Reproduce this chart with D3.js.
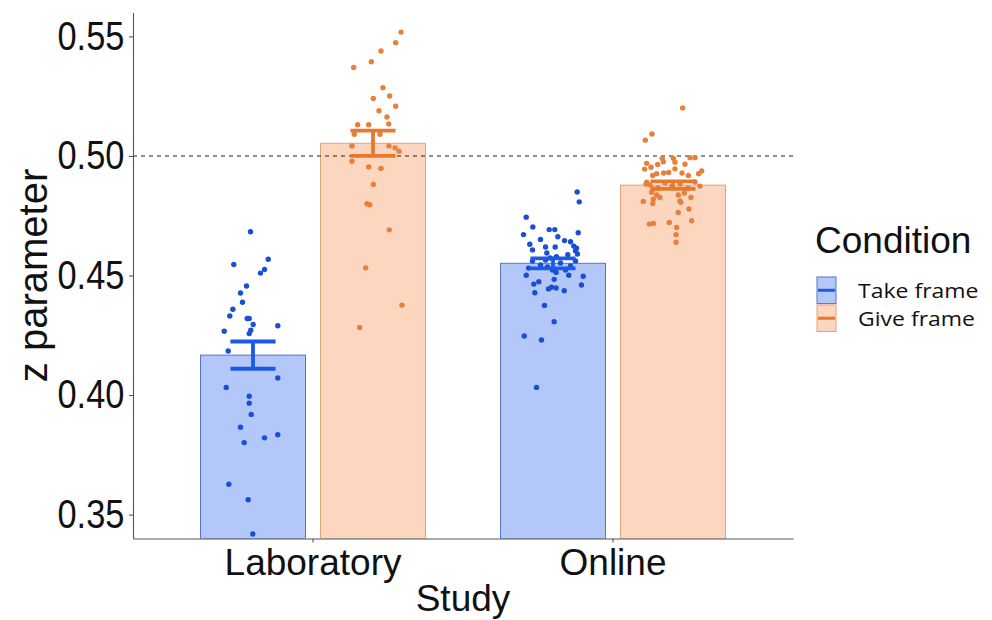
<!DOCTYPE html>
<html><head><meta charset="utf-8">
<script src="https://cdn.jsdelivr.net/npm/d3@7"></script>
<style>body{margin:0;background:#fff}</style>
</head><body>
<svg id="chart" width="992" height="620"></svg>
<script>
// ---------- data ----------
const studies = ["Laboratory", "Online"];
const conditions = ["Take frame", "Give frame"];
const yTickValues = [0.35, 0.40, 0.45, 0.50, 0.55];
const referenceLine = 0.5;

// bar heights (means) and standard errors, [Take, Give] per study
const labMeans = [0.4167, 0.5053];
const labSE = [0.0057, 0.0053];
const onlineMeans = [0.4551, 0.4878];
const onlineSE = [0.0021, 0.0016];

// individual participants (z values) and their horizontal jitter (fraction of bar width)
const labTakeZ = [0.4683,0.4568,0.4546,0.4525,0.4510,0.4456,0.4427,0.4388,0.4359,0.4331,0.4320,0.4320,0.4295,0.4290,0.4271,0.4257,0.4267,0.4184,0.4071,0.4032,0.3995,0.3966,0.3919,0.3865,0.3821,0.3834,0.3801,0.3627,0.3562,0.3419];
const labTakeJitter = [-0.024,0.145,-0.183,0.110,0.071,-0.062,-0.119,-0.100,-0.192,-0.221,-0.055,-0.036,0.002,0.236,-0.021,-0.036,-0.274,-0.236,0.236,-0.255,-0.036,-0.036,-0.017,-0.119,0.110,0.236,-0.084,-0.230,-0.046,-0.002];

const labGiveZ = [0.5518,0.5474,0.5439,0.5394,0.5370,0.5285,0.5240,0.5251,0.5208,0.5189,0.5163,0.5131,0.5131,0.5134,0.5091,0.5091,0.5042,0.5042,0.5034,0.5020,0.4978,0.4954,0.4948,0.4881,0.4800,0.4796,0.4691,0.4532,0.4376,0.4283];
const labGiveJitter = [0.267,0.216,0.076,-0.016,-0.184,0.095,0.003,0.159,0.216,0.057,0.133,-0.146,-0.041,0.150,-0.178,0.067,-0.200,0.152,0.210,0.248,-0.200,-0.041,0.076,0.003,-0.057,-0.031,0.155,-0.070,0.276,-0.127];

const onlineTakeZ = [0.4849,0.4808,0.4744,0.4703,0.4692,0.4692,0.4671,0.4679,0.4662,0.4651,0.4646,0.4641,0.4631,0.4619,0.4619,0.4623,0.4607,0.4614,0.4604,0.4594,0.4590,0.4587,0.4579,0.4573,
  0.4561,0.4544,0.4552,0.4540,0.4565,0.4561,0.4531,0.4523,0.4523,0.4536,
  0.4513,0.4501,0.4501,0.4497,0.4484,0.4474,0.4464,0.4460,0.4451,0.4448,0.4444,0.4436,0.4428,0.4375,0.4307,0.4247,0.4230,0.4032];
const onlineTakeJitter = [0.230,0.250,-0.255,-0.192,-0.036,0.017,-0.281,0.240,0.046,-0.119,0.110,0.167,-0.221,-0.071,0.021,0.198,-0.195,0.224,0.214,-0.059,0.233,0.141,0.033,-0.027,
  -0.195,-0.119,0.071,0.167,-0.071,0.214,-0.233,-0.005,0.119,-0.052,
  0.030,-0.255,0.150,0.288,0.011,-0.135,-0.183,0.271,-0.014,0.030,-0.043,0.107,-0.173,-0.081,0.011,-0.274,-0.110,-0.157];

const onlineGiveZ = [0.5201,0.5092,0.5066,0.4990,0.4976,0.4990,0.4974,0.4993,0.4993,0.4969,0.4964,0.4953,0.4965,0.4945,0.4946,0.4929,0.4931,0.4926,0.4918,0.4929,0.4937,0.4926,0.4918,0.4890,
  0.4879,0.4887,0.4883,0.4891,0.4866,0.4866,0.4874,0.4874,
  0.4883,0.4862,0.4848,0.4837,0.4826,0.4819,0.4810,0.4801,0.4837,0.4845,0.4826,0.4812,0.4806,0.4778,0.4764,0.4729,0.4715,0.4718,0.4722,0.4701,0.4671,0.4639];
const onlineGiveJitter = [0.092,-0.200,-0.264,-0.102,-0.092,0.003,0.019,0.162,0.210,-0.250,-0.146,-0.210,0.114,-0.270,0.019,-0.089,-0.041,-0.155,-0.193,0.086,0.273,0.244,0.146,-0.250,
  -0.219,-0.076,0.067,0.210,-0.143,0.143,-0.010,0.257,
  -0.257,-0.187,-0.203,-0.155,-0.124,-0.187,-0.283,-0.193,0.050,0.108,0.171,0.067,0.073,0.152,0.050,0.178,-0.226,-0.187,-0.035,0.035,0.029,0.029];

// ---------- build tables ----------
const bars = [];
[[labMeans, labSE], [onlineMeans, onlineSE]].forEach(([m, s], i) => {
  conditions.forEach((c, j) => bars.push({study: studies[i], cond: c, mean: m[j], se: s[j]}));
});
const points = [];
function addPts(study, cond, zs, js) { zs.forEach((z, k) => points.push({study, cond, z, j: js[k]})); }
addPts("Laboratory", "Take frame", labTakeZ, labTakeJitter);
addPts("Laboratory", "Give frame", labGiveZ, labGiveJitter);
addPts("Online", "Take frame", onlineTakeZ, onlineTakeJitter);
addPts("Online", "Give frame", onlineGiveZ, onlineGiveJitter);

// ---------- styles ----------
const fillCol = {"Take frame": "#b3c8f9", "Give frame": "#fcd6bf"};
const edgeCol = {"Take frame": "#5276c6", "Give frame": "#e3a27a"};
const dotCol = {"Take frame": "#1b4fd3", "Give frame": "#e8803d"};
const errCol = {"Take frame": "#1a5ae6", "Give frame": "#e8782e"};
const FONT = "'Liberation Sans', Arial, sans-serif";

// ---------- scales ----------
const svg = d3.select("#chart");
const pLeft = 133, pRight = 793, pTop = 12.5, pBottom = 538.5;
const x0 = d3.scaleBand().domain(studies).range([pLeft, pRight]).paddingInner(0).paddingOuter(0.1);
const x1 = d3.scaleBand().domain(conditions).range([0, x0.bandwidth()]).paddingInner(0.125).paddingOuter(0.3125);
const y = d3.scaleLinear().domain([0.34, 0.56]).range([pBottom, pTop]);

const panel = svg.append("g");
panel.append("clipPath").attr("id", "clip").append("rect")
  .attr("x", pLeft).attr("y", pTop).attr("width", pRight - pLeft).attr("height", pBottom - pTop);
const plot = panel.append("g").attr("clip-path", "url(#clip)");

// bars
plot.selectAll("rect.bar").data(bars).join("rect").attr("class", "bar")
  .attr("x", d => x0(d.study) + x1(d.cond))
  .attr("width", x1.bandwidth())
  .attr("y", d => y(d.mean))
  .attr("height", d => y(0.34) - y(d.mean))
  .attr("fill", d => fillCol[d.cond])
  .attr("stroke", d => edgeCol[d.cond]).attr("stroke-width", 1);

// reference line
plot.append("line").attr("x1", pLeft).attr("x2", pRight)
  .attr("y1", y(referenceLine)).attr("y2", y(referenceLine))
  .attr("stroke", "#222").attr("stroke-width", 1.1).attr("stroke-dasharray", "4,4");

// jittered points
plot.selectAll("circle.pt").data(points).join("circle").attr("class", "pt")
  .attr("cx", d => x0(d.study) + x1(d.cond) + x1.bandwidth() / 2 + d.j * x1.bandwidth())
  .attr("cy", d => y(d.z))
  .attr("r", 2.7)
  .attr("fill", d => dotCol[d.cond]);

// error bars
const capHalf = 0.215;
const eb = plot.selectAll("g.eb").data(bars).join("g").attr("class", "eb")
  .attr("stroke", d => errCol[d.cond]).attr("stroke-width", 3.8);
eb.append("line")
  .attr("x1", d => x0(d.study) + x1(d.cond) + x1.bandwidth() / 2)
  .attr("x2", d => x0(d.study) + x1(d.cond) + x1.bandwidth() / 2)
  .attr("y1", d => y(d.mean - d.se)).attr("y2", d => y(d.mean + d.se));
[-1, 1].forEach(sgn => {
  eb.append("line")
    .attr("x1", d => x0(d.study) + x1(d.cond) + x1.bandwidth() * (0.5 - capHalf))
    .attr("x2", d => x0(d.study) + x1(d.cond) + x1.bandwidth() * (0.5 + capHalf))
    .attr("y1", d => y(d.mean + sgn * d.se)).attr("y2", d => y(d.mean + sgn * d.se));
});

// axes
const yAxis = svg.append("g").attr("transform", `translate(${pLeft},0)`)
  .call(d3.axisLeft(y).tickValues(yTickValues).tickFormat(d3.format(".2f")).tickSize(4).tickSizeOuter(0).tickPadding(6));
yAxis.selectAll("text").attr("font-family", FONT).attr("font-size", 40).attr("fill", "#111")
  .attr("transform", "scale(0.86,1)");
const xAxis = svg.append("g").attr("transform", `translate(0,${pBottom})`)
  .call(d3.axisBottom(x0).tickSize(4).tickSizeOuter(0).tickPadding(6));
xAxis.selectAll("text").attr("font-family", FONT).attr("font-size", 37).attr("fill", "#111");
svg.selectAll(".domain, .tick line").attr("stroke", "#555").attr("stroke-width", 1.1);

// axis titles
svg.append("text").attr("x", (pLeft + pRight) / 2).attr("y", 611)
  .attr("text-anchor", "middle").attr("font-family", FONT).attr("font-size", 37).attr("fill", "#111").text("Study");
svg.append("text").attr("transform", `translate(47,${(pTop + pBottom) / 2}) rotate(-90)`)
  .attr("text-anchor", "middle").attr("font-family", FONT).attr("font-size", 40).attr("fill", "#111").text("z parameter");

// legend
const lg = svg.append("g").attr("transform", "translate(815,0)");
lg.append("text").attr("x", 0).attr("y", 253).attr("font-family", FONT).attr("font-size", 37).attr("fill", "#111").text("Condition");
const keyY = d3.scaleBand().domain(conditions).range([277, 331.5]).paddingInner(0.05);
const item = lg.selectAll("g.item").data(conditions).join("g").attr("class", "item")
  .attr("transform", d => `translate(2,${keyY(d)})`);
item.append("rect").attr("width", 19).attr("height", keyY.bandwidth())
  .attr("fill", d => fillCol[d]).attr("stroke", d => edgeCol[d]).attr("stroke-width", 1);
item.append("line").attr("x1", 1).attr("x2", 18)
  .attr("y1", keyY.bandwidth() / 2).attr("y2", keyY.bandwidth() / 2)
  .attr("stroke", d => errCol[d]).attr("stroke-width", 3);
item.append("text").attr("transform", `translate(41,${keyY.bandwidth() / 2 + 8}) scale(1.15,1)`)
  .attr("font-family", "'Open Sans', sans-serif").attr("font-size", 20).attr("fill", "#111").text(d => d);
</script>
</body></html>
